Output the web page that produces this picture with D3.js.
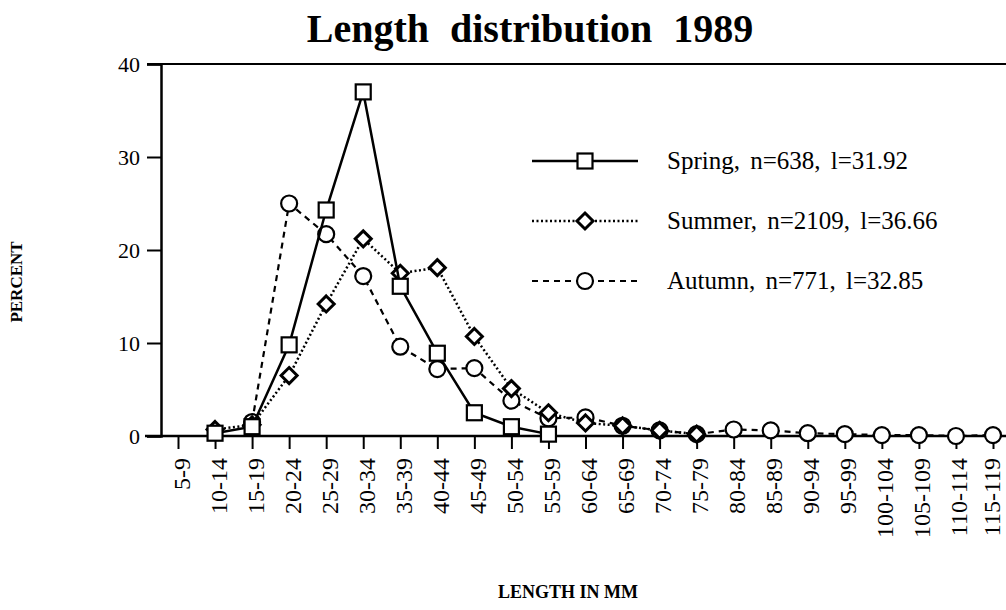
<!DOCTYPE html>
<html><head><meta charset="utf-8">
<script src="https://cdn.jsdelivr.net/npm/d3@7"></script>
<style>body{margin:0;background:#fff}svg{display:block}text{font-family:"Liberation Serif","Times New Roman",serif;fill:#000}</style>
</head><body><svg id="c" width="1006" height="610"></svg>
<script>
const categories = ["5-9","10-14","15-19","20-24","25-29","30-34","35-39","40-44","45-49","50-54","55-59","60-64","65-69","70-74","75-79","80-84","85-89","90-94","95-99","100-104","105-109","110-114","115-119"];
const springValues = [null,0.3,1.0,9.8,24.3,37.0,16.1,8.9,2.5,1.0,0.2,null,null,null,null,null,null,null,null,null,null,null,null];
const summerValues = [null,0.7,1.2,6.5,14.2,21.2,17.5,18.1,10.7,5.1,2.5,1.4,1.1,0.6,0.2,null,null,null,null,null,null,null,null];
const autumnValues = [null,null,1.5,25.0,21.7,17.2,9.6,7.2,7.3,3.8,1.9,2.0,1.1,0.6,0.2,0.7,0.6,0.3,0.2,0.1,0.1,0.0,0.1];
const yTicks = [0,10,20,30,40];
const seriesNames = ["Spring, n=638, l=31.92","Summer, n=2109, l=36.66","Autumn, n=771, l=32.85"];

const svg = d3.select("#c");
const x = d3.scalePoint().domain(categories).range([178, 993]);
const y = d3.scaleLinear().domain([0,40]).range([436, 64]);

// title
svg.append("text").attr("x",530).attr("y",42).attr("text-anchor","middle")
  .style("font-size","40px").style("font-weight","bold").attr("word-spacing","11")
  .text("Length distribution 1989");

// frame
svg.append("line").attr("x1",147).attr("x2",1006).attr("y1",y(40)).attr("y2",y(40)).attr("stroke","#000").attr("stroke-width",2);
svg.append("line").attr("x1",145).attr("x2",1006).attr("y1",y(0)).attr("y2",y(0)).attr("stroke","#000").attr("stroke-width",2.5);

// y axis
const yAxis = svg.append("g").attr("transform","translate(161,0)")
  .call(d3.axisLeft(y).tickValues(yTicks).tickSize(14).tickPadding(7));
yAxis.select(".domain").attr("stroke-width",2.5);
yAxis.selectAll(".tick line").attr("stroke-width",2);
yAxis.selectAll("text").style("font-size","22px").style("font-family","Liberation Serif");

// x axis
const xAxis = svg.append("g").attr("transform",`translate(0,${y(0)})`)
  .call(d3.axisBottom(x).tickSize(13).tickSizeOuter(0));
xAxis.select(".domain").remove();
xAxis.selectAll(".tick line").attr("stroke-width",2);
xAxis.selectAll("text").style("font-size","24px").style("font-family","Liberation Serif")
  .attr("transform","rotate(-90)").attr("text-anchor","end")
  .attr("x",-22).attr("y",0).attr("dy",(d,i)=> i===categories.length-1 ? "6px" : "11px");

// axis titles
svg.append("text").attr("transform","translate(22,282) rotate(-90)").attr("text-anchor","middle")
  .style("font-size","17px").style("font-weight","bold").text("PERCENT");
svg.append("text").attr("x",568).attr("y",598).attr("text-anchor","middle")
  .style("font-size","18px").style("font-weight","bold").text("LENGTH IN MM");

// markers
function drawMarker(g, type, cx, cy){
  if(type==="square"){
    g.append("rect").attr("x",cx-7.5).attr("y",cy-7.5).attr("width",15).attr("height",15)
      .attr("fill","#fff").attr("stroke","#000").attr("stroke-width",2.2);
  } else if(type==="diamond"){
    g.append("path").attr("d",`M${cx},${cy-8}L${cx+8},${cy}L${cx},${cy+8}L${cx-8},${cy}Z`)
      .attr("fill","#fff").attr("stroke","#000").attr("stroke-width",3);
  } else {
    g.append("circle").attr("cx",cx).attr("cy",cy).attr("r",8)
      .attr("fill","#fff").attr("stroke","#000").attr("stroke-width",2.2);
  }
}
const series = [
  {name:seriesNames[2], values:autumnValues, marker:"circle", dash:"6,5", width:2.2},
  {name:seriesNames[1], values:summerValues, marker:"diamond", dash:"2,2.5", width:2.5},
  {name:seriesNames[0], values:springValues, marker:"square", dash:null, width:2.5}
];
const line = d3.line().defined(d=>d.v!=null).x(d=>x(d.c)).y(d=>y(d.v));
series.forEach(s=>{
  const pts = categories.map((c,i)=>({c, v:s.values[i]}));
  const g = svg.append("g");
  g.append("path").attr("d",line(pts)).attr("fill","none").attr("stroke","#000")
    .attr("stroke-width",s.width).attr("stroke-dasharray",s.dash);
  pts.filter(d=>d.v!=null).forEach(d=>drawMarker(g,s.marker,x(d.c),y(d.v)));
});

// legend
const legendY = [161,221,281];
const legendOrder = [series[2],series[1],series[0]];
legendOrder.forEach((s,i)=>{
  const g = svg.append("g");
  const ly = legendY[i];
  g.append("line").attr("x1",532).attr("x2",638).attr("y1",ly).attr("y2",ly)
    .attr("stroke","#000").attr("stroke-width",s.width).attr("stroke-dasharray",s.dash);
  drawMarker(g,s.marker,585,ly);
  g.append("text").attr("x",667).attr("y",ly+8).style("font-size","25px")
    .attr("word-spacing","4").text(s.name);
});
</script></body></html>
